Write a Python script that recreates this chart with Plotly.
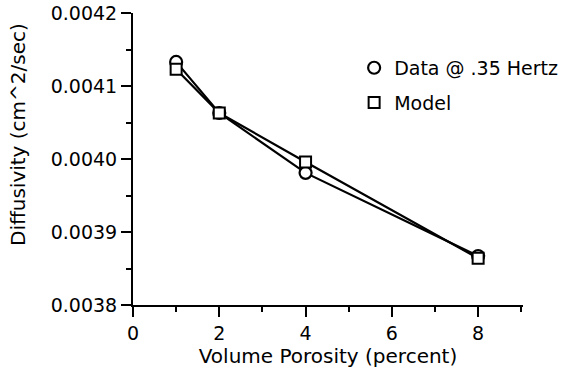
import plotly.graph_objects as go

porosity = [1, 2, 4, 8]
data_diffusivity = [0.004133, 0.004063, 0.003981, 0.003867]
model_diffusivity = [0.004123, 0.004063, 0.003996, 0.003864]
series_names = ["Data @ .35 Hertz", "Model"]

FONT = "DejaVu Sans"

circle_marker = dict(symbol="circle", size=12, color="white", line=dict(color="black", width=2.2))
square_marker = dict(symbol="square", size=11, color="white", line=dict(color="black", width=2))

fig = go.Figure()
fig.add_trace(go.Scatter(
    x=porosity, y=data_diffusivity, name=series_names[0], mode="lines+markers",
    line=dict(color="black", width=2.2), marker=circle_marker, showlegend=False,
))
fig.add_trace(go.Scatter(
    x=porosity, y=model_diffusivity, name=series_names[1], mode="lines+markers",
    line=dict(color="black", width=2.2), marker=square_marker, showlegend=False,
))
# legend-only entries (marker symbol only, as in the reference)
fig.add_trace(go.Scatter(x=[None], y=[None], name=series_names[0], mode="markers",
                         marker=circle_marker, legendgroup="a"))
fig.add_trace(go.Scatter(x=[None], y=[None], name=series_names[1], mode="markers",
                         marker=square_marker, legendgroup="b"))

fig.update_layout(
    width=579, height=372,
    margin=dict(l=133, r=56, t=13, b=67),
    paper_bgcolor="white", plot_bgcolor="white",
    font=dict(family=FONT, size=19, color="black"),
    showlegend=True,
    legend=dict(x=0.567, y=0.877, xanchor="left", yanchor="top",
                bgcolor="rgba(0,0,0,0)", font=dict(size=19, family=FONT),
                tracegroupgap=7),
    xaxis=dict(
        range=[0, 9.04], tick0=0, dtick=2, showgrid=False, zeroline=False, automargin=False,
        showline=True, linecolor="black", linewidth=2,
        ticks="outside", ticklen=10, tickwidth=2, tickcolor="black",
        minor=dict(tick0=0, dtick=1, ticks="outside", ticklen=5, tickwidth=2, tickcolor="black", showgrid=False),
        title=dict(text="Volume Porosity (percent)", font=dict(size=20, family=FONT), standoff=4),
        tickfont=dict(size=19, family=FONT),
    ),
    yaxis=dict(
        range=[0.0038, 0.0042], tick0=0.0038, dtick=0.0001, tickformat=".4f",
        showgrid=False, zeroline=False, automargin=False,
        showline=True, linecolor="black", linewidth=2,
        ticks="outside", ticklen=10, tickwidth=2, tickcolor="black",
        minor=dict(tick0=0.0038, dtick=0.00005, ticks="outside", ticklen=5, tickwidth=2, tickcolor="black", showgrid=False),
        tickfont=dict(size=19, family=FONT),
    ),
    annotations=[dict(
        text="Diffusivity (cm^2/sec)", xref="paper", yref="paper",
        x=(18 - 133) / 390, y=(305 - 135) / 292, xanchor="center", yanchor="middle",
        textangle=-90, showarrow=False, font=dict(size=20, family=FONT),
    )],
)

fig.write_html("out.html", config={"displayModeBar": False},
               post_script="document.body.style.margin='0px';")
